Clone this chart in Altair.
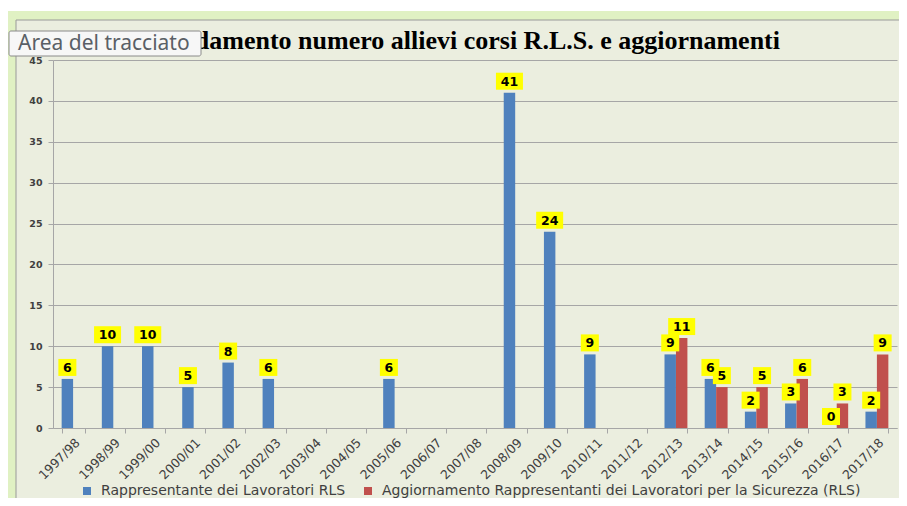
import altair as alt
import pandas as pd

CATEGORIES = ["1997/98", "1998/99", "1999/00", "2000/01", "2001/02", "2002/03", "2003/04",
              "2004/05", "2005/06", "2006/07", "2007/08", "2008/09", "2009/10", "2010/11",
              "2011/12", "2012/13", "2013/14", "2014/15", "2015/16", "2016/17", "2017/18"]
RLS = [6, 10, 10, 5, 8, 6, None, None, 6, None, None, 41, 24, 9, None, 9, 6, 2, 3, 0, 2]
AGG = [None] * 15 + [11, 5, 5, 6, 3, 9]
SERIES = ["Rappresentante dei Lavoratori RLS",
          "Aggiornamento Rappresentanti dei Lavoratori per la Sicurezza (RLS)"]
COLORS = ["#4f81bd", "#c0504d"]
Y_TICKS = [0, 5, 10, 15, 20, 25, 30, 35, 40, 45]
TITLE = "Andamento numero allievi corsi R.L.S. e aggiornamenti"
TOOLTIP = "Area del tracciato"

rows = []
for cat, a, b in zip(CATEGORIES, RLS, AGG):
    if a is not None:
        rows.append({"cat": cat, "series": SERIES[0], "value": a})
    if b is not None:
        rows.append({"cat": cat, "series": SERIES[1], "value": b})
df = pd.DataFrame(rows)
BOX_H = 17
df["box_w"] = df["value"].apply(lambda v: 18 if v < 10 else 27)
df["box_shape"] = df["box_w"].apply(
    lambda w: "M-1,-{r:.4f}L1,-{r:.4f}L1,{r:.4f}L-1,{r:.4f}Z".format(r=BOX_H / w))
df["box_size"] = df["box_w"] ** 2

decor_df = pd.DataFrame({"d": [0]})

W, H = 844, 368
PANEL = "#ebeedf"
GREEN = "#e0f1c3"
BORDER = "#a6a6a6"

x_enc = alt.X("cat:N", sort=CATEGORIES, title=None,
              scale=alt.Scale(domain=CATEGORIES, paddingInner=0.43, paddingOuter=0.215),
              axis=alt.Axis(labelAngle=315, tickBand="extent", tickSize=5, grid=False,
                            domainColor=BORDER, tickColor=BORDER,
                            labelFont="DejaVu Sans", labelFontSize=12.5, labelColor="#404040",
                            labelPadding=3))
xo_enc = alt.XOffset("series:N", sort=SERIES,
                     scale=alt.Scale(domain=SERIES, paddingInner=0, paddingOuter=0))
y_enc = alt.Y("value:Q", title=None,
              scale=alt.Scale(domain=[0, 45], nice=False, zero=True),
              axis=alt.Axis(values=Y_TICKS, grid=True, gridColor=BORDER, domainColor=BORDER,
                            tickColor=BORDER, tickSize=5, labelFont="DejaVu Sans",
                            labelFontSize=9.5, labelFontWeight="bold", labelColor="#404040",
                            labelPadding=6))

def rect(x, x2, y, y2, color):
    return alt.Chart(decor_df).mark_rect(color=color).encode(
        x=alt.value(x), x2=alt.value(x2), y=alt.value(y), y2=alt.value(y2))

decor = [
    rect(-45, 854, -52, -49, "#ffffff"),
    rect(-45, 854, -49, -40, GREEN),
    rect(-45, -37, -49, 446, GREEN),
    rect(-37, 854, -40.5, -39.5, "#9a9a9a"),
    rect(-37.5, -36.5, -40, 446, "#9a9a9a"),
]

bars = alt.Chart(df).mark_bar().encode(
    x=x_enc, xOffset=xo_enc, y=y_enc,
    color=alt.Color("series:N", sort=SERIES,
                    scale=alt.Scale(domain=SERIES, range=COLORS),
                    legend=alt.Legend(orient="none", legendX=27, legendY=424, direction="horizontal",
                                      title=None, symbolType="square", symbolSize=64,
                                      symbolStrokeWidth=0, labelFont="DejaVu Sans",
                                      labelFontSize=14, labelColor="#404040", labelLimit=0,
                                      labelOffset=7, columnPadding=15)))

boxes = alt.Chart(df).mark_point(filled=True, fill="#ffff00", opacity=1, strokeWidth=0,
                                 yOffset=-11.5).encode(
    x=alt.X("cat:N", sort=CATEGORIES), xOffset=alt.XOffset("series:N", sort=SERIES),
    y=alt.Y("value:Q"),
    shape=alt.Shape("box_shape:N", scale=None),
    size=alt.Size("box_size:Q", scale=None))

labels = alt.Chart(df).mark_text(font="DejaVu Sans", fontWeight="bold", fontSize=12.5,
                                 color="#000000", yOffset=-11, baseline="middle").encode(
    x=alt.X("cat:N", sort=CATEGORIES), xOffset=alt.XOffset("series:N", sort=SERIES),
    y=alt.Y("value:Q"), text=alt.Text("value:Q"))

title = alt.Chart(decor_df).mark_text(text=TITLE, font="Liberation Serif", fontWeight="bold",
                                      fontSize=26, color="#000000", align="right",
                                      baseline="middle").encode(
    x=alt.value(727), y=alt.value(-19))

tip_box = alt.Chart(decor_df).mark_rect(fill="#f7f7f7", stroke="#8a8a8a", strokeWidth=1,
                                        cornerRadius=2).encode(
    x=alt.value(-44), x2=alt.value(148), y=alt.value(-29), y2=alt.value(-4))
tip_text = alt.Chart(decor_df).mark_text(text=TOOLTIP, font="Noto Sans", fontSize=21,
                                         color="#5a5f66", align="left",
                                         baseline="middle").encode(
    x=alt.value(-35), y=alt.value(-16))

chart = alt.layer(*decor, bars, boxes, labels, title, tip_box, tip_text).properties(
    width=W, height=H,
    padding={"left": 45, "top": 52, "right": 2, "bottom": 70},
    autosize=alt.AutoSizeParams(type="none"),
    background=PANEL,
).configure_view(stroke="transparent")

chart.save("out.html", embed_options={"renderer": "svg", "actions": False})
